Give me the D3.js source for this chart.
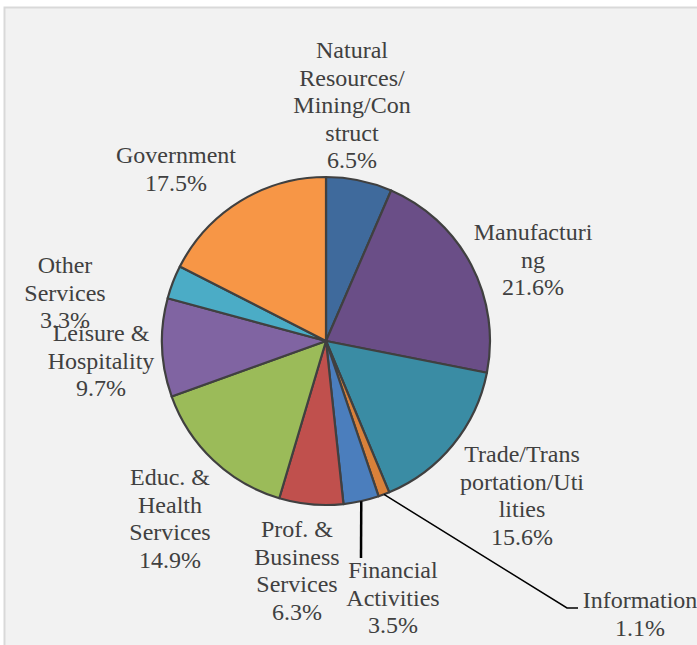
<!DOCTYPE html>
<html>
<head>
<meta charset="utf-8">
<script src="https://cdn.jsdelivr.net/npm/d3@7"></script>
<style>
  html, body { margin: 0; padding: 0; background: #ffffff; }
  svg { display: block; }
  .lbl { font-family: "Times New Roman", "Liberation Serif", "DejaVu Serif", serif; }
</style>
</head>
<body>
<svg id="chartArea" width="697" height="645"></svg>
<script>

/* data */
const categories = [
  "Natural Resources/Mining/Construct", "Manufacturing", "Trade/Transportation/Utilities",
  "Information", "Financial Activities", "Prof. & Business Services",
  "Educ. & Health Services", "Leisure & Hospitality", "Other Services", "Government"
];
const shares = [6.5, 21.6, 15.6, 1.1, 3.5, 6.3, 14.9, 9.7, 3.3, 17.5];
const colors = [
  "#3f6a9c", "#6a4e87", "#3a8ca4", "#d9813a", "#4b7ebd",
  "#c0504d", "#9bbb59", "#8064a2", "#4bacc6", "#f79646"
];
// label text as wrapped in the picture
const labelLines = [
  ["Natural", "Resources/", "Mining/Con", "struct"],
  ["Manufacturi", "ng"],
  ["Trade/Trans", "portation/Uti", "lities"],
  ["Information"],
  ["Financial", "Activities"],
  ["Prof. &", "Business", "Services"],
  ["Educ. &", "Health", "Services"],
  ["Leisure &", "Hospitality"],
  ["Other", "Services"],
  ["Government"]
];

/* layout */
const cx = 326, cy = 341, radius = 164;
const fontSize = 24, lineH = 27.5;
// label center x / first baseline y
const labelPos = [
  [352, 58], [533, 240], [522, 462], [640, 608], [393, 578],
  [297, 537], [170, 485], [101, 341], [65, 273], [176, 163]
];
// leader line end points (null = no line)
const leaderEnds = [
  null, null, null, [[567, 608], [578, 608]], [[361, 558]],
  null, null, null, null, null
];

const svg = d3.select("#chartArea");

// plot area background
svg.append("rect")
  .attr("x", 4.5).attr("y", 7.5)
  .attr("width", 720).attr("height", 660)
  .attr("fill", "#f2f2f2")
  .attr("stroke", "#d9d9d9")
  .attr("stroke-width", 2);

// pie
const pie = d3.pie().sort(null).value(d => d);
const arcs = pie(shares);
const arc = d3.arc().innerRadius(0).outerRadius(radius);

const g = svg.append("g").attr("transform", `translate(${cx},${cy})`);
g.selectAll("path")
  .data(arcs)
  .enter()
  .append("path")
  .attr("d", arc)
  .attr("fill", (d, i) => colors[i])
  .attr("stroke", "#404040")
  .attr("stroke-width", 2.2)
  .attr("stroke-linejoin", "round");

// leader lines
const edge = d3.arc().innerRadius(radius).outerRadius(radius);
arcs.forEach((d, i) => {
  if (!leaderEnds[i]) return;
  const [ex, ey] = edge.centroid(d);
  const pts = [[cx + ex, cy + ey]].concat(leaderEnds[i]);
  svg.append("path")
    .attr("d", d3.line()(pts))
    .attr("fill", "none")
    .attr("stroke", "#000000")
    .attr("stroke-width", i === 4 ? 2.5 : 1.5);
});

// labels
const labels = svg.append("g")
  .attr("class", "lbl")
  .attr("font-size", fontSize + "px")
  .attr("fill", "#404040")
  .attr("text-anchor", "middle");

arcs.forEach((d, i) => {
  const lines = labelLines[i].concat([shares[i].toFixed(1) + "%"]);
  const [lx, ly] = labelPos[i];
  const t = labels.append("text")
    .attr("x", lx).attr("y", ly);
  lines.forEach((s, k) => {
    t.append("tspan")
      .attr("x", lx)
      .attr("y", ly + k * lineH)
      .text(s);
  });
});

</script>
</body>
</html>
